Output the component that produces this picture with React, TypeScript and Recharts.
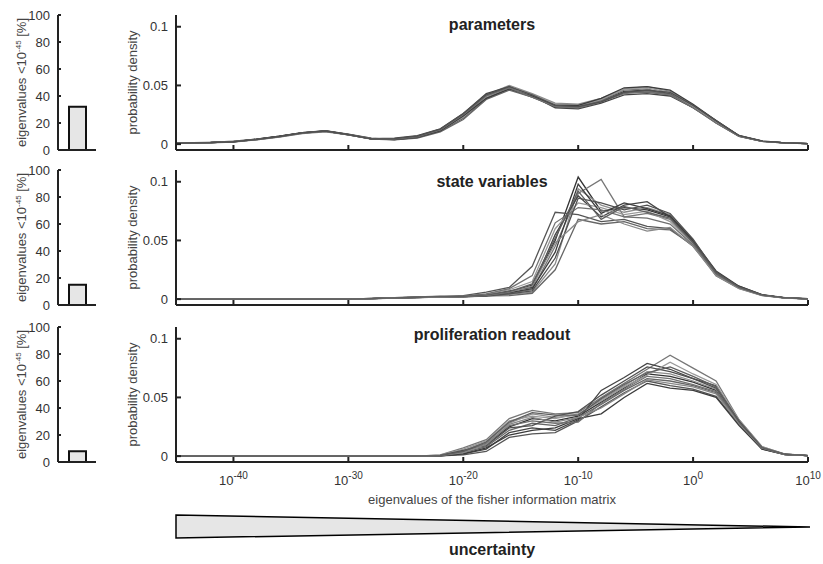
import { LineChart, Line, XAxis, YAxis, BarChart, Bar } from 'recharts';

const FONT = '"Liberation Sans", Arial, Helvetica, sans-serif';
const AXIS = { stroke: '#222', strokeWidth: 2 };

// log10 of the eigenvalue at each histogram node
const DECADES = [-45, -42, -40, -38, -36, -34, -32, -30, -28, -26, -24, -22, -20, -18, -16, -14, -12, -10, -8, -6, -4, -2, 0, 2, 4, 6, 8, 10];
const X_TICKS = [-40, -30, -20, -10, 0, 10];
const Y_TICKS = [0, 0.05, 0.1];
const BAR_TICKS = [0, 20, 40, 60, 80, 100];

const PANEL_TITLES = ['parameters', 'state variables', 'proliferation readout'];
// share of eigenvalues below 1e-45, in %
const BELOW_LIMIT = [32, 15, 8];

const PARAMETERS = [
  [0.001, 0.0013, 0.002, 0.004, 0.0065, 0.0095, 0.011, 0.008, 0.0045, 0.004, 0.006, 0.012, 0.024, 0.04, 0.048, 0.041, 0.033, 0.032, 0.037, 0.045, 0.046, 0.043, 0.032, 0.019, 0.007, 0.0025, 0.001, 0.0005],
  [0.0008, 0.0012, 0.0022, 0.0038, 0.0062, 0.0092, 0.0112, 0.0082, 0.0048, 0.0042, 0.0058, 0.0115, 0.023, 0.041, 0.049, 0.042, 0.034, 0.033, 0.038, 0.046, 0.047, 0.042, 0.031, 0.018, 0.0068, 0.0024, 0.001, 0.0004],
  [0.0012, 0.0015, 0.0025, 0.0042, 0.0068, 0.0098, 0.0115, 0.0085, 0.005, 0.0038, 0.0055, 0.011, 0.022, 0.039, 0.047, 0.04, 0.032, 0.031, 0.036, 0.044, 0.045, 0.043, 0.033, 0.02, 0.0072, 0.0026, 0.0011, 0.0005],
  [0.0009, 0.0011, 0.0018, 0.0036, 0.006, 0.009, 0.0105, 0.0078, 0.0044, 0.0045, 0.0065, 0.0125, 0.025, 0.042, 0.05, 0.043, 0.035, 0.034, 0.039, 0.047, 0.049, 0.045, 0.033, 0.019, 0.0069, 0.0023, 0.0009, 0.0004],
  [0.001, 0.0014, 0.0021, 0.0041, 0.0066, 0.0096, 0.0109, 0.0081, 0.0046, 0.0052, 0.0072, 0.013, 0.026, 0.043, 0.049, 0.041, 0.031, 0.03, 0.035, 0.042, 0.043, 0.041, 0.031, 0.019, 0.0071, 0.0025, 0.001, 0.0005],
  [0.0011, 0.0013, 0.0019, 0.0039, 0.0064, 0.0094, 0.0111, 0.0079, 0.0043, 0.0036, 0.0052, 0.0105, 0.021, 0.038, 0.046, 0.04, 0.033, 0.032, 0.037, 0.044, 0.044, 0.042, 0.032, 0.018, 0.0066, 0.0024, 0.001, 0.0004],
  [0.0009, 0.0012, 0.0023, 0.0037, 0.0063, 0.0093, 0.0108, 0.0083, 0.0047, 0.0041, 0.0061, 0.0118, 0.023, 0.04, 0.048, 0.042, 0.034, 0.033, 0.038, 0.047, 0.048, 0.044, 0.032, 0.019, 0.0073, 0.0026, 0.001, 0.0005],
  [0.001, 0.0014, 0.002, 0.0043, 0.0067, 0.0097, 0.0113, 0.0084, 0.0045, 0.0039, 0.0057, 0.0112, 0.024, 0.039, 0.047, 0.041, 0.033, 0.033, 0.039, 0.048, 0.049, 0.046, 0.034, 0.02, 0.007, 0.0025, 0.001, 0.0005],
  [0.0012, 0.0013, 0.0022, 0.004, 0.0064, 0.0095, 0.011, 0.008, 0.0046, 0.0043, 0.0063, 0.0122, 0.025, 0.041, 0.048, 0.04, 0.032, 0.031, 0.036, 0.043, 0.045, 0.042, 0.031, 0.018, 0.0067, 0.0023, 0.0009, 0.0004],
  [0.0008, 0.0012, 0.0021, 0.0038, 0.0065, 0.0096, 0.0112, 0.0081, 0.0044, 0.0047, 0.0068, 0.0128, 0.026, 0.042, 0.049, 0.042, 0.033, 0.032, 0.036, 0.044, 0.046, 0.044, 0.033, 0.02, 0.0074, 0.0027, 0.0011, 0.0005],
];

const STATE_VARIABLES = [
  [0, 0, 0, 0, 0, 0, 0, 0, 0.0005, 0.001, 0.0015, 0.002, 0.0022, 0.003, 0.006, 0.012, 0.05, 0.104, 0.075, 0.078, 0.076, 0.07, 0.048, 0.022, 0.01, 0.0035, 0.001, 0.0003],
  [0, 0, 0, 0, 0, 0, 0, 0, 0.0004, 0.0012, 0.0018, 0.0025, 0.0025, 0.004, 0.005, 0.008, 0.045, 0.09, 0.102, 0.07, 0.073, 0.068, 0.047, 0.021, 0.0095, 0.0033, 0.001, 0.0003],
  [0, 0, 0, 0, 0, 0, 0, 0, 0.0006, 0.0011, 0.0016, 0.002, 0.003, 0.006, 0.01, 0.028, 0.074, 0.072, 0.066, 0.068, 0.062, 0.06, 0.045, 0.021, 0.011, 0.0038, 0.0012, 0.0004],
  [0, 0, 0, 0, 0, 0, 0, 0, 0.0003, 0.0008, 0.0013, 0.0018, 0.002, 0.0025, 0.004, 0.006, 0.03, 0.094, 0.08, 0.074, 0.078, 0.072, 0.05, 0.023, 0.0105, 0.0036, 0.001, 0.0003],
  [0, 0, 0, 0, 0, 0, 0, 0, 0.0005, 0.001, 0.0014, 0.0021, 0.0023, 0.0035, 0.007, 0.01, 0.055, 0.088, 0.07, 0.08, 0.083, 0.07, 0.049, 0.022, 0.0098, 0.0034, 0.001, 0.0003],
  [0, 0, 0, 0, 0, 0, 0, 0, 0.0004, 0.0009, 0.0015, 0.0019, 0.0021, 0.0028, 0.003, 0.005, 0.025, 0.068, 0.064, 0.066, 0.06, 0.059, 0.046, 0.02, 0.0092, 0.0032, 0.0009, 0.0003],
  [0, 0, 0, 0, 0, 0, 0, 0, 0.0005, 0.0011, 0.0017, 0.0022, 0.0024, 0.004, 0.008, 0.015, 0.06, 0.082, 0.078, 0.072, 0.075, 0.066, 0.047, 0.022, 0.0102, 0.0035, 0.001, 0.0003],
  [0, 0, 0, 0, 0, 0, 0, 0, 0.0006, 0.001, 0.0014, 0.002, 0.0022, 0.003, 0.0055, 0.009, 0.04, 0.098, 0.073, 0.082, 0.077, 0.071, 0.05, 0.024, 0.011, 0.0037, 0.0011, 0.0004],
  [0, 0, 0, 0, 0, 0, 0, 0, 0.0005, 0.0012, 0.0016, 0.0023, 0.0026, 0.0045, 0.009, 0.02, 0.065, 0.078, 0.076, 0.07, 0.069, 0.064, 0.046, 0.021, 0.0097, 0.0034, 0.001, 0.0003],
  [0, 0, 0, 0, 0, 0, 0, 0, 0.0004, 0.0009, 0.0015, 0.0019, 0.002, 0.0027, 0.0045, 0.007, 0.035, 0.086, 0.082, 0.076, 0.08, 0.073, 0.051, 0.023, 0.0104, 0.0036, 0.001, 0.0003],
  [0, 0, 0, 0, 0, 0, 0, 0, 0.0005, 0.001, 0.0014, 0.0018, 0.0021, 0.0032, 0.006, 0.011, 0.048, 0.066, 0.072, 0.064, 0.058, 0.061, 0.045, 0.02, 0.009, 0.0031, 0.0009, 0.0003],
  [0, 0, 0, 0, 0, 0, 0, 0, 0.0005, 0.0011, 0.0016, 0.0021, 0.0023, 0.0034, 0.0065, 0.013, 0.052, 0.092, 0.068, 0.079, 0.074, 0.069, 0.048, 0.022, 0.01, 0.0035, 0.001, 0.0003],
];

const PROLIFERATION = [
  [0, 0, 0, 0, 0, 0, 0, 0, 0, 0, 0, 0.0005, 0.004, 0.01, 0.025, 0.032, 0.03, 0.034, 0.046, 0.058, 0.07, 0.068, 0.063, 0.056, 0.029, 0.007, 0.0015, 0.0005],
  [0, 0, 0, 0, 0, 0, 0, 0, 0, 0, 0, 0.001, 0.007, 0.014, 0.032, 0.039, 0.036, 0.037, 0.05, 0.062, 0.074, 0.086, 0.075, 0.064, 0.031, 0.008, 0.0018, 0.0005],
  [0, 0, 0, 0, 0, 0, 0, 0, 0, 0, 0, 0.0002, 0.001, 0.004, 0.016, 0.019, 0.02, 0.03, 0.042, 0.054, 0.064, 0.06, 0.057, 0.051, 0.027, 0.006, 0.0012, 0.0004],
  [0, 0, 0, 0, 0, 0, 0, 0, 0, 0, 0, 0.0006, 0.005, 0.012, 0.028, 0.036, 0.033, 0.035, 0.048, 0.06, 0.072, 0.07, 0.064, 0.057, 0.03, 0.0072, 0.0015, 0.0005],
  [0, 0, 0, 0, 0, 0, 0, 0, 0, 0, 0, 0.0003, 0.002, 0.006, 0.02, 0.024, 0.022, 0.031, 0.056, 0.067, 0.079, 0.074, 0.066, 0.06, 0.03, 0.0075, 0.0016, 0.0005],
  [0, 0, 0, 0, 0, 0, 0, 0, 0, 0, 0, 0.0004, 0.003, 0.008, 0.022, 0.028, 0.026, 0.033, 0.044, 0.056, 0.066, 0.064, 0.06, 0.054, 0.028, 0.0065, 0.0014, 0.0005],
  [0, 0, 0, 0, 0, 0, 0, 0, 0, 0, 0, 0.0008, 0.006, 0.013, 0.03, 0.034, 0.032, 0.036, 0.047, 0.059, 0.069, 0.08, 0.07, 0.061, 0.031, 0.0078, 0.0017, 0.0005],
  [0, 0, 0, 0, 0, 0, 0, 0, 0, 0, 0, 0.0003, 0.002, 0.007, 0.018, 0.022, 0.024, 0.032, 0.036, 0.05, 0.062, 0.058, 0.056, 0.05, 0.026, 0.006, 0.0012, 0.0004],
  [0, 0, 0, 0, 0, 0, 0, 0, 0, 0, 0, 0.0005, 0.004, 0.011, 0.026, 0.03, 0.028, 0.029, 0.045, 0.057, 0.068, 0.066, 0.061, 0.055, 0.029, 0.007, 0.0015, 0.0005],
  [0, 0, 0, 0, 0, 0, 0, 0, 0, 0, 0, 0.0006, 0.005, 0.009, 0.024, 0.026, 0.034, 0.038, 0.052, 0.064, 0.076, 0.072, 0.066, 0.058, 0.03, 0.0073, 0.0016, 0.0005],
  [0, 0, 0, 0, 0, 0, 0, 0, 0, 0, 0, 0.0004, 0.003, 0.01, 0.027, 0.033, 0.029, 0.033, 0.041, 0.053, 0.065, 0.062, 0.059, 0.053, 0.028, 0.0068, 0.0014, 0.0005],
  [0, 0, 0, 0, 0, 0, 0, 0, 0, 0, 0, 0.0005, 0.004, 0.012, 0.029, 0.037, 0.035, 0.035, 0.049, 0.061, 0.071, 0.076, 0.068, 0.059, 0.029, 0.0071, 0.0015, 0.0005],
];

const PANELS = [PARAMETERS, STATE_VARIABLES, PROLIFERATION];
const GRAYS = ['#333', '#777', '#555', '#8c8c8c', '#444', '#666', '#999', '#3c3c3c', '#707070', '#505050', '#888', '#5e5e5e'];

// panel plot areas (px, top of page)
const PLOT_TOP = [15, 170, 327];
const PLOT_H = 135;
const TITLE_Y = [30, 187, 340];

const toRows = (series: number[][]) =>
  DECADES.map((d, i) => {
    const row: Record<string, number> = { d };
    series.forEach((s, k) => {
      row['s' + k] = s[i];
    });
    return row;
  });

function LineYTick({ x, y, payload }: any) {
  return (
    <g>
      <line x1={x} x2={x + 5} y1={y} y2={y} stroke="#222" strokeWidth={2} />
      <text x={x - 8} y={y} dy="0.35em" textAnchor="end" fontSize={13} fill="#333" fontFamily={FONT}>
        {String(payload.value)}
      </text>
    </g>
  );
}

function BarYTick({ x, y, payload }: any) {
  return (
    <g>
      <line x1={x} x2={x + 3} y1={y} y2={y} stroke="#222" strokeWidth={2} />
      <text x={x - 8} y={y} dy="0.35em" textAnchor="end" fontSize={13} fill="#333" fontFamily={FONT}>
        {payload.value}
      </text>
    </g>
  );
}

function makeXTick(withLabel: boolean) {
  return ({ x, y, payload }: any) => (
    <g>
      <line x1={x} x2={x} y1={y} y2={y - 5} stroke="#222" strokeWidth={2} />
      {withLabel && (
        <text x={x} y={y + 23} textAnchor="middle" fontSize={13} fill="#333" fontFamily={FONT}>
          10
          <tspan dy={-6} fontSize={10}>{payload.value}</tspan>
        </text>
      )}
    </g>
  );
}

function DensityPanel({ index }: { index: number }) {
  const series = PANELS[index];
  const last = index === PANELS.length - 1;
  const axisH = last ? 30 : 10;
  return (
    <div style={{ position: 'absolute', left: 0, top: PLOT_TOP[index] - 10 }}>
      <LineChart
        width={823}
        height={10 + PLOT_H + axisH}
        data={toRows(series)}
        margin={{ top: 10, right: 15, bottom: 0, left: 116 }}
      >
        <XAxis
          dataKey="d"
          type="number"
          domain={[-45, 10]}
          ticks={X_TICKS}
          interval={0}
          height={axisH}
          tickSize={0}
          tickMargin={0}
          tickLine={false}
          axisLine={AXIS}
          tick={makeXTick(last)}
        />
        <YAxis
          type="number"
          domain={[-0.005, 0.11]}
          ticks={Y_TICKS}
          interval={0}
          width={60}
          tickSize={0}
          tickMargin={0}
          tickLine={false}
          axisLine={AXIS}
          tick={LineYTick}
        />
        {series.map((_, k) => (
          <Line
            key={k}
            dataKey={'s' + k}
            type="linear"
            stroke={GRAYS[k % GRAYS.length]}
            strokeWidth={1.3}
            dot={false}
            isAnimationActive={false}
          />
        ))}
      </LineChart>
    </div>
  );
}

function LimitPanel({ index }: { index: number }) {
  return (
    <div style={{ position: 'absolute', left: 0, top: PLOT_TOP[index] - 10 }}>
      <BarChart
        width={110}
        height={10 + PLOT_H + 10}
        data={[{ name: 'below', value: BELOW_LIMIT[index] }]}
        margin={{ top: 10, right: 14, bottom: 0, left: 18 }}
      >
        <XAxis dataKey="name" height={10} tick={false} tickLine={false} axisLine={AXIS} />
        <YAxis
          type="number"
          domain={[0, 100]}
          ticks={BAR_TICKS}
          interval={0}
          width={40}
          tickSize={0}
          tickMargin={0}
          tickLine={false}
          axisLine={AXIS}
          tick={BarYTick}
        />
        <Bar dataKey="value" barSize={17} fill="#e6e6e6" stroke="#111" strokeWidth={2} isAnimationActive={false} />
      </BarChart>
    </div>
  );
}

function Annotations() {
  return (
    <svg width={823} height={564} style={{ position: 'absolute', left: 0, top: 0, pointerEvents: 'none' }} fontFamily={FONT}>
      {PANEL_TITLES.map((t, i) => (
        <text key={t} x={492} y={TITLE_Y[i]} textAnchor="middle" fontSize={16} fontWeight="bold" fill="#222">
          {t}
        </text>
      ))}
      {PLOT_TOP.map((top, i) => {
        const cy = top + PLOT_H / 2;
        return (
          <g key={i}>
            <text x={0} y={0} transform={`translate(26, ${cy}) rotate(-90)`} textAnchor="middle" fontSize={13} fill="#444">
              eigenvalues &lt;10
              <tspan dy={-5} fontSize={8}>-45</tspan>
              <tspan dy={5}> [%]</tspan>
            </text>
            <text x={0} y={0} transform={`translate(137, ${cy}) rotate(-90)`} textAnchor="middle" fontSize={13} fill="#444">
              probability density
            </text>
          </g>
        );
      })}
      <text x={492} y={504} textAnchor="middle" fontSize={13} fill="#444">
        eigenvalues of the fisher information matrix
      </text>
      <polygon points="176,515 810,527 176,538" fill="#e6e6e6" stroke="#000" strokeWidth={1.5} />
      <text x={492} y={555} textAnchor="middle" fontSize={16} fontWeight="bold" fill="#222">
        uncertainty
      </text>
    </svg>
  );
}

export default function App() {
  return (
    <div style={{ position: 'absolute', left: 0, top: 0, width: 823, height: 564, background: '#fff', fontFamily: FONT }}>
      {PANELS.map((_, i) => (
        <LimitPanel key={'b' + i} index={i} />
      ))}
      {PANELS.map((_, i) => (
        <DensityPanel key={'l' + i} index={i} />
      ))}
      <Annotations />
    </div>
  );
}
